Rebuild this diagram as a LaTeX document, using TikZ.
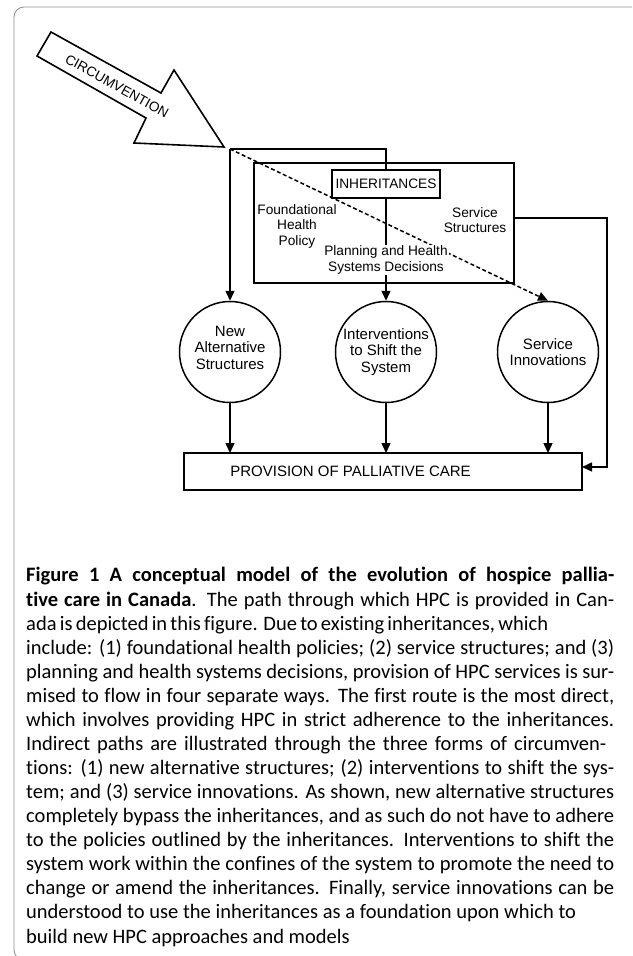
\documentclass[tikz,border=0pt]{standalone}
\usepackage{fontspec}
\setmainfont{Liberation Sans}
\newfontfamily\capfont[Ligatures=NoCommon]{Carlito}
\usetikzlibrary{arrows.meta}

\tikzset{
  box/.style={draw, line width=1.5pt, inner sep=0pt, outer sep=0pt},
  bubble/.style={draw, circle, line width=1.5pt, minimum size=101pt, inner sep=0pt, align=center, font=\fontsize{15}{16.7}\selectfont},
  lbl/.style={align=center, inner sep=1pt, font=\fontsize{13.7}{15.5}\selectfont},
  flow/.style={line width=1.5pt, -{Triangle[length=10pt,width=9pt]}},
}

\newcommand{\capline}[2]{\makebox[#1][s]{#2}}

\begin{document}
\begin{tikzpicture}[x=1pt,y=-1pt]
  \useasboundingbox (0,0) rectangle (632,956);

  % draw outer frame
  \draw[black!45, line width=0.8pt, rounded corners=10pt] (632,7) -- (14,7) -- (14,960) -- (60,960);

  % draw circumvention arrow
  \draw[line width=1.6pt, line join=miter, fill=white] (51,32) -- (37,56) -- (146,118) -- (134,143) -- (224,147) -- (174,70) -- (161,93) -- cycle;
  \node[lbl, rotate=-29] (circum) at (117,86) {CIRCUMVENTION};
  \coordinate (tip) at (230,149);

  % draw inheritances
  \node[box, minimum width=260pt, minimum height=120pt] (frame) at (384,223) {};
  \node[box, lbl, minimum width=108pt, minimum height=28pt] (inh) at (386,184) {INHERITANCES};
  \node[lbl] (found) at (297,226) {Foundational\\Health\\Policy};
  \node[lbl] (sstruct) at (475,220) {Service\\Structures};

  % draw circles
  \node[bubble] (newalt) at (230,352) {New\\Alternative\\Structures\\[-8pt]};
  \node[bubble] (interv) at (386,352) {Interventions\\to Shift the\\System};
  \node[bubble] (servinn) at (548,352) {Service\\Innovations};

  % draw provision box
  \node[box, minimum width=398pt, minimum height=37pt, font=\fontsize{15}{18}\selectfont] (prov) at (383,471.5) {PROVISION OF PALLIATIVE CARE\hspace*{65pt}};

  % draw connectors
  \draw[flow] (tip) -- (newalt.north);
  \draw[line width=1.5pt] (tip) -| (inh.north);
  \draw[flow, dash pattern=on 4pt off 2.5pt] (tip) -- (servinn.north);
  \draw[flow] (inh.south) -- (interv.north);
  \node[lbl, fill=white] (plan) at (386,260) {Planning and Health\\Systems Decisions};
  \coordinate (corner) at (607,218);
  \draw[flow] (frame.east |- corner) -- (corner) |- ([yshift=4.5pt]prov.east);
  \foreach \c in {newalt,interv,servinn}
    \draw[flow] (\c.south) -- (\c.south |- prov.north);

  % draw caption
  \node[anchor=base west, align=left, inner sep=0pt, font=\capfont\fontsize{20.5}{24.07}\selectfont] (caption) at (26,943) {%
    \capline{588pt}{\textbf{Figure 1 A conceptual model of the evolution of hospice pallia-}}\\
    \capline{588pt}{\textbf{tive care in Canada}. The path through which HPC is provided in Can-}\\
    \capline{522pt}{ada is depicted in this figure. Due to existing inheritances, which}\\
    \capline{588pt}{include: (1) foundational health policies; (2) service structures; and (3)}\\
    \capline{588pt}{planning and health systems decisions, provision of HPC services is sur-}\\
    \capline{588pt}{mised to flow in four separate ways. The first route is the most direct,}\\
    \capline{588pt}{which involves providing HPC in strict adherence to the inheritances.}\\
    \capline{580pt}{Indirect paths are illustrated through the three forms of circumven-}\\
    \capline{588pt}{tions: (1) new alternative structures; (2) interventions to shift the sys-}\\
    \capline{588pt}{tem; and (3) service innovations. As shown, new alternative structures}\\
    \capline{588pt}{completely bypass the inheritances, and as such do not have to adhere}\\
    \capline{588pt}{to the policies outlined by the inheritances. Interventions to shift the}\\
    \capline{588pt}{system work within the confines of the system to promote the need to}\\
    \capline{588pt}{change or amend the inheritances. Finally, service innovations can be}\\
    \capline{550pt}{understood to use the inheritances as a foundation upon which to}\\
    build new HPC approaches and models};
\end{tikzpicture}
\end{document}
